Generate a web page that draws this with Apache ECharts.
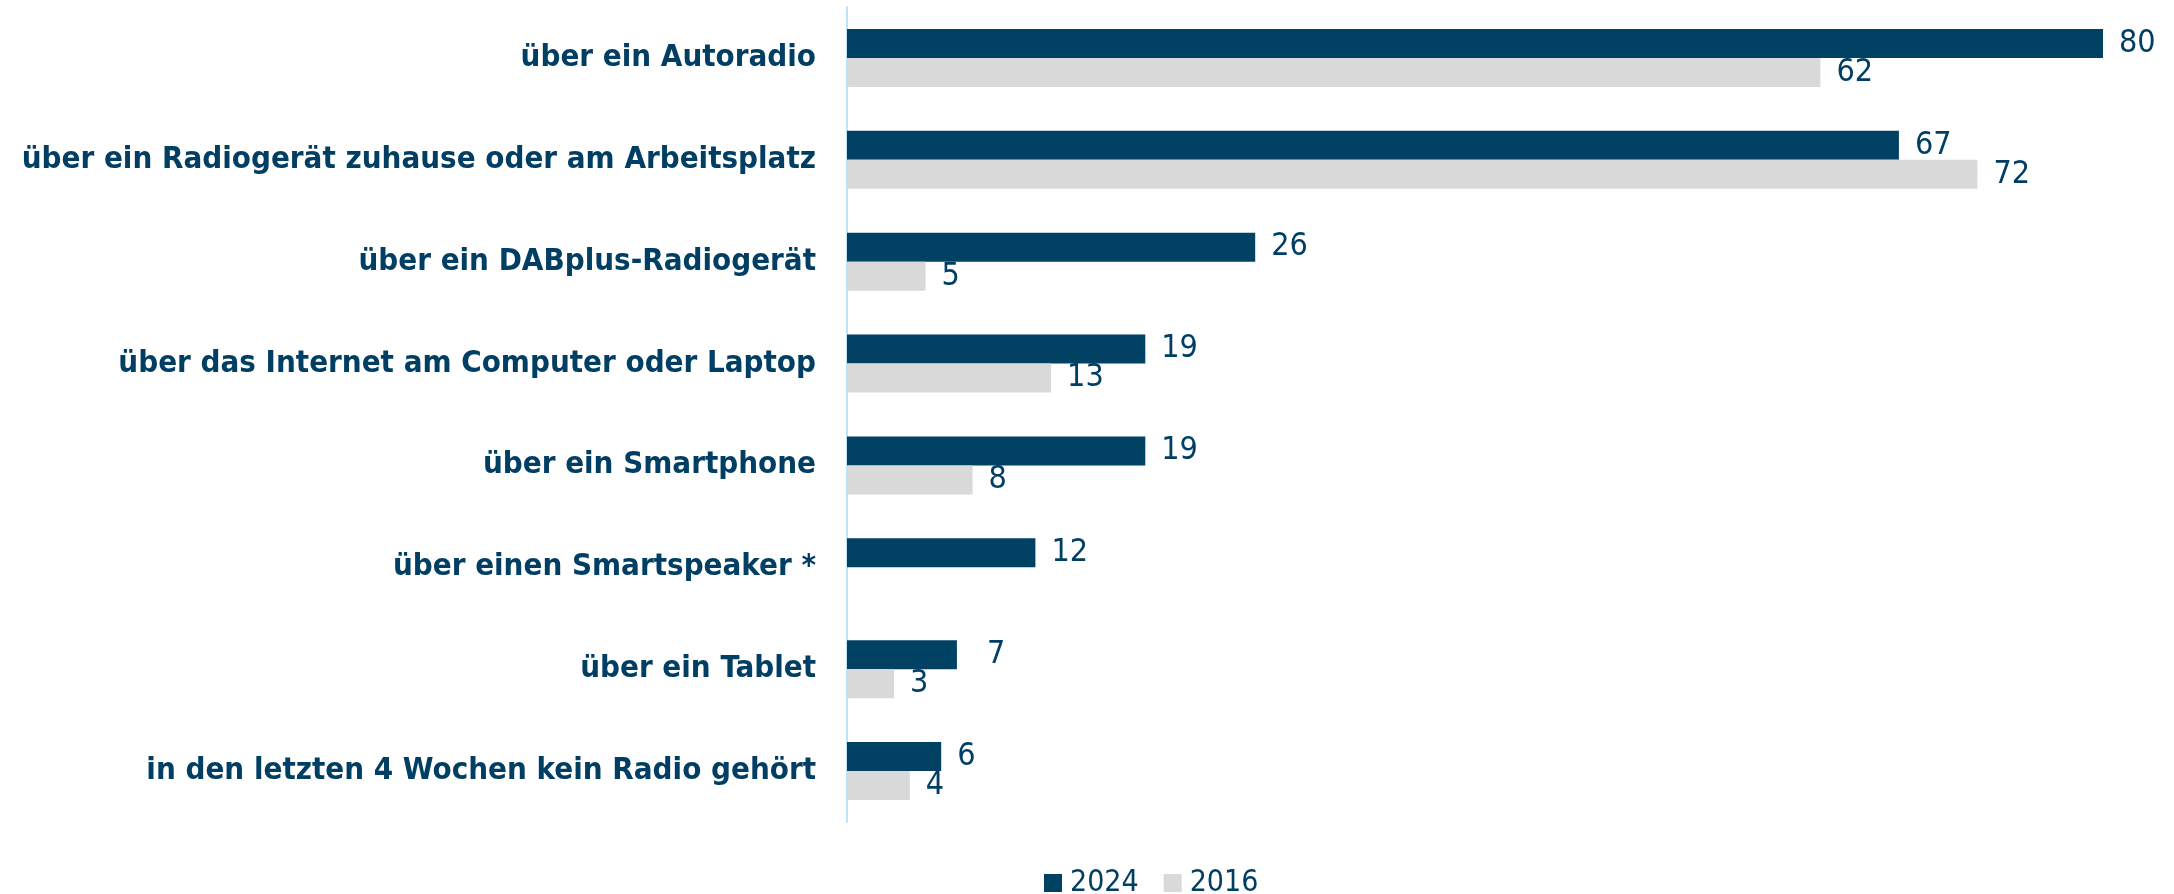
<!DOCTYPE html>
<html>
<head>
<meta charset="utf-8">
<script src="https://cdn.jsdelivr.net/npm/echarts@6/dist/echarts.min.js"></script>
<style>
  html, body { margin: 0; padding: 0; background: #fff; }
  #chart { width: 2174px; height: 894px; }
</style>
</head>
<body>
<div id="chart"></div>
<script>
// Kategorien (von oben nach unten)
var categories = [
  'über ein Autoradio',
  'über ein Radiogerät zuhause oder am Arbeitsplatz',
  'über ein DABplus-Radiogerät',
  'über das Internet am Computer oder Laptop',
  'über ein Smartphone',
  'über einen Smartspeaker *',
  'über ein Tablet',
  'in den letzten 4 Wochen kein Radio gehört'
];
var values2024 = [80, 67, 26, 19, 19, 12, 7, 6];
var values2016 = [62, 72, 5, 13, 8, '-', 3, 4];

var navy = '#004164';
var grey = '#D9D9D9';
var textColor = '#003F63';
var fontFamily = "'DejaVu Sans Condensed', Tahoma, 'DejaVu Sans', sans-serif";

var chart = echarts.init(document.getElementById('chart'));

function labelOpt() {
  return {
    show: true,
    position: 'right',
    distance: 16,
    color: textColor,
    fontFamily: fontFamily,
    fontSize: 32
  };
}

// Label "7" steht im Original etwas weiter rechts
var data2024 = values2024.map(function (v, i) {
  if (i === 6) {
    return { value: v, label: { offset: [14, 0] } };
  }
  return v;
});

chart.setOption({
  animation: false,
  textStyle: { fontFamily: fontFamily },
  legend: {
    left: 1039,
    top: 863,
    itemWidth: 18,
    itemHeight: 18,
    itemGap: 25,
    icon: 'rect',
    textStyle: {
      color: textColor,
      fontSize: 30,
      fontFamily: fontFamily,
      padding: [0, 0, 0, 3]
    },
    data: ['2024', '2016']
  },
  grid: {
    left: 847,
    right: 71,
    top: 7,
    bottom: 72,
    containLabel: false
  },
  xAxis: {
    type: 'value',
    min: 0,
    max: 80,
    show: false
  },
  yAxis: {
    type: 'category',
    inverse: true,
    data: categories,
    axisLine: {
      show: true,
      lineStyle: { color: '#BDE3F5', width: 2 }
    },
    axisTick: { show: false },
    axisLabel: {
      margin: 31,
      color: textColor,
      fontWeight: 'bold',
      fontSize: 31,
      fontFamily: fontFamily
    },
    splitLine: { show: false }
  },
  series: [
    {
      name: '2024',
      type: 'bar',
      data: data2024,
      barGap: '0%',
      barCategoryGap: '43%',
      itemStyle: { color: navy },
      label: labelOpt()
    },
    {
      name: '2016',
      type: 'bar',
      data: values2016,
      barGap: '0%',
      barCategoryGap: '43%',
      itemStyle: { color: grey },
      label: labelOpt()
    }
  ]
});
</script>
</body>
</html>
